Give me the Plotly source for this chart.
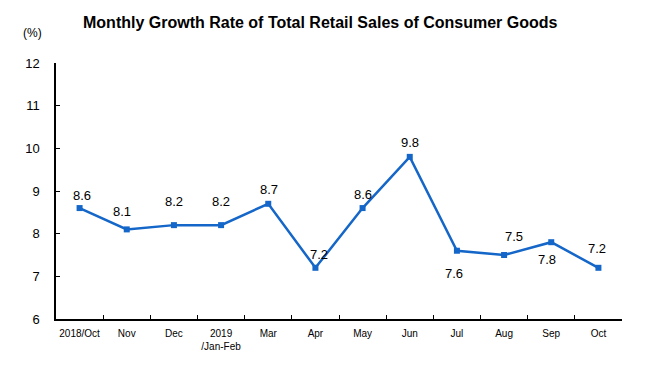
import plotly.graph_objects as go

categories = ["2018/Oct", "Nov", "Dec", "2019<br>/Jan-Feb", "Mar", "Apr", "May",
              "Jun", "Jul", "Aug", "Sep", "Oct"]
growth = [8.6, 8.1, 8.2, 8.2, 8.7, 7.2, 8.6, 9.8, 7.6, 7.5, 7.8, 7.2]
y_ticks = [6, 7, 8, 9, 10, 11, 12]

# label offsets (style only), in pixels
label_dy = [13, 18, 24, 24, 14, 13, 14, 14, -23, 19, -17, 19]
label_dx = [2, -5, 0, 0, 1, 4, 0, 0, -3, 10, -4, -1]

W, H = 652, 379
L, R, T, B = 56, 30, 63, 60
font = "Liberation Sans, Arial, sans-serif"
blue = "#1466C8"

fig = go.Figure()
fig.add_trace(go.Scatter(
    x=categories, y=growth, mode="lines+markers",
    line=dict(color=blue, width=2.5),
    marker=dict(symbol="square", size=6, color=blue),
    showlegend=False, hoverinfo="x+y",
))

for c, v, dy, dx in zip(categories, growth, label_dy, label_dx):
    fig.add_annotation(x=c, y=v, text=f"{v:.1f}", showarrow=False,
                       yshift=dy, xshift=dx,
                       font=dict(family=font, size=13, color="black"))

fig.add_annotation(text="Monthly Growth Rate of Total Retail Sales of Consumer Goods",
                   xref="paper", yref="paper",
                   x=(320 - L) / (W - L - R), y=1 + (T - 22) / (H - T - B),
                   xanchor="center", yanchor="middle", showarrow=False,
                   font=dict(family=font, size=16, color="black", weight="bold"))
fig.add_annotation(text="(%)", xref="paper", yref="paper",
                   x=(32 - L) / (W - L - R), y=1 + (T - 33) / (H - T - B),
                   xanchor="center", yanchor="middle", showarrow=False,
                   font=dict(family=font, size=12, color="black"))

fig.update_layout(
    width=W, height=H,
    margin=dict(l=L, r=R, t=T, b=B, pad=0, autoexpand=False),
    paper_bgcolor="white", plot_bgcolor="white",
    font=dict(family=font, color="black"),
)
fig.update_xaxes(
    type="category", showline=True, linecolor="black", linewidth=1.5,
    ticks="inside", ticklen=4, tickcolor="black", tickwidth=1,
    tickson="boundaries", showgrid=False, zeroline=False, tickangle=0,
    automargin=False, ticklabelstandoff=4,
    tickfont=dict(family=font, size=10, color="black"),
    range=[-0.5, len(categories) - 0.5], fixedrange=True,
)
fig.update_yaxes(
    range=[6, 12], tickvals=y_ticks, showline=True, linecolor="black", linewidth=1.5,
    ticks="inside", ticklen=4, tickcolor="black", tickwidth=1,
    showgrid=False, zeroline=False, ticklabelstandoff=12, automargin=False,
    tickfont=dict(family=font, size=13, color="black"), fixedrange=True,
)

fig.write_html("out.html", config={"displayModeBar": False},
               post_script="document.body.style.margin='0px';document.body.style.overflow='hidden';")
